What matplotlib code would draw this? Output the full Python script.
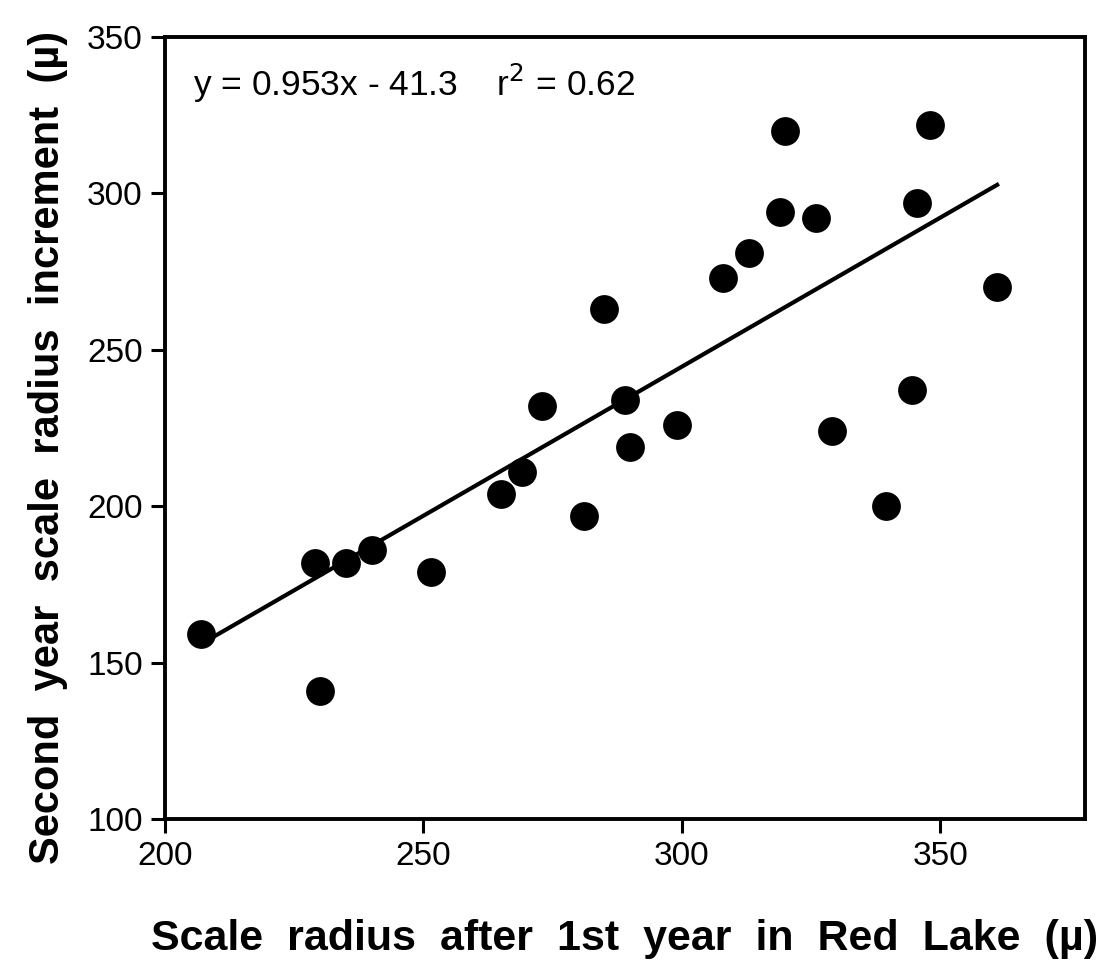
import matplotlib
matplotlib.use('Agg')
import matplotlib.pyplot as plt
import numpy as np

# Scale radius after first year (x) vs second year increment (y), in microns
radius_1st = [207, 230, 229, 235, 240, 251.5, 265, 269, 273, 281, 285, 289,
              290, 299, 308, 313, 320, 319, 326, 329, 339.5, 344.5, 345.5,
              348, 361]
increment_2nd = [159, 141, 182, 182, 186, 179, 204, 211, 232, 197, 263, 234,
                 219, 226, 273, 281, 320, 294, 292, 224, 200, 237, 297,
                 322, 270]

slope = 0.953
intercept = -41.3
r_squared = 0.62

x_ticks = [200, 250, 300, 350]
y_ticks = [100, 150, 200, 250, 300, 350]

plt.rcParams['font.family'] = ['Liberation Sans', 'DejaVu Sans']

fig = plt.figure(figsize=(11.03, 9.65), dpi=100)
ax = fig.add_axes([165 / 1103, 146 / 965, 920 / 1103, 782 / 965])

# Scatter points
ax.scatter(radius_1st, increment_2nd, s=430, color='black', zorder=3,
           linewidths=0)

# Regression line over the data range
xs = np.array([min(radius_1st), max(radius_1st)])
ax.plot(xs, slope * xs + intercept, color='black', linewidth=3)

ax.text(0.03, 0.968, f'y = {slope}x - {abs(intercept)}    r$^2$ = {r_squared}',
        transform=ax.transAxes, fontsize=25.5, va='top', ha='left')

ax.set_xlim(200, 378)
ax.set_ylim(100, 350)
ax.set_xticks(x_ticks)
ax.set_yticks(y_ticks)
ax.tick_params(direction='out', length=10, width=2.2, labelsize=24, pad=6)

for s in ax.spines.values():
    s.set_linewidth(2.8)

ax.set_xlabel('Scale  radius  after  1st  year  in  Red  Lake  (\u00b5)',
              fontsize=31, fontweight='bold', labelpad=34)
ax.set_ylabel('Second  year  scale  radius  increment  (\u00b5)',
              fontsize=30, fontweight='bold', labelpad=14, y=0.475)

fig.savefig('out.png', dpi=100)
